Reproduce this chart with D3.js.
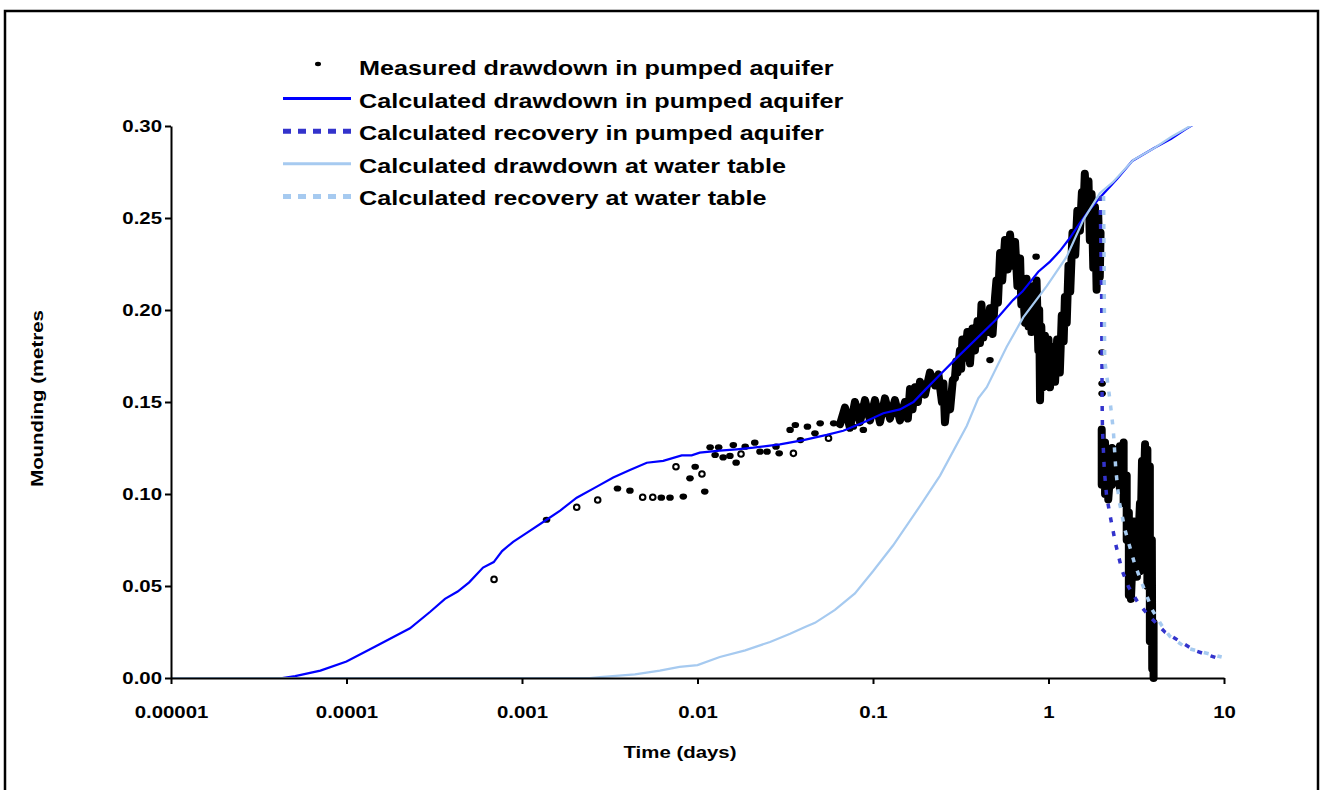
<!DOCTYPE html>
<html>
<head>
<meta charset="utf-8">
<script src="https://cdn.jsdelivr.net/npm/d3@7"></script>
<style>
  body { margin: 0; background: #fff; }
  svg { display: block; }
  text { font-family: "Liberation Sans", Arial, sans-serif; font-weight: bold; fill: #000; }
</style>
</head>
<body>
<svg id="chart" width="1322" height="790"></svg>
<script>
// axis ticks
const tickValuesX = [1e-5, 1e-4, 1e-3, 0.01, 0.1, 1, 10];
const tickLabelsX = ["0.00001", "0.0001", "0.001", "0.01", "0.1", "1", "10"];
const tickValuesY = [0, 0.05, 0.1, 0.15, 0.2, 0.25, 0.3];
const tickLabelsY = ["0.00", "0.05", "0.10", "0.15", "0.20", "0.25", "0.30"];

const seriesNames = [
  "Measured drawdown in pumped aquifer",
  "Calculated drawdown in pumped aquifer",
  "Calculated recovery in pumped aquifer",
  "Calculated drawdown at water table",
  "Calculated recovery at water table"
];

// [time (days), mounding (m)]
const calcPumped = [
  [1e-5, 0], [4.3e-5, 0], [5.1e-5, 0.001], [7.1e-5, 0.004], [1e-4, 0.009], [1.45e-4, 0.017],
  [2.3e-4, 0.027], [3.0e-4, 0.036], [3.64e-4, 0.043], [4.3e-4, 0.047], [5.0e-4, 0.052],
  [6.0e-4, 0.060], [6.9e-4, 0.063], [7.7e-4, 0.069], [8.9e-4, 0.074], [1.07e-3, 0.079],
  [1.38e-3, 0.086], [1.65e-3, 0.091], [2.05e-3, 0.098], [2.67e-3, 0.104], [3.31e-3, 0.109],
  [4.12e-3, 0.113], [5.14e-3, 0.117], [6.38e-3, 0.118], [8.13e-3, 0.121], [9.26e-3, 0.121],
  [0.0103, 0.1225], [0.0134, 0.1236], [0.0167, 0.1243], [0.0208, 0.1252], [0.0295, 0.127],
  [0.0401, 0.1293], [0.0545, 0.1321], [0.0677, 0.1344], [0.0881, 0.1388], [0.1145, 0.1439],
  [0.1425, 0.146], [0.17, 0.150], [0.2, 0.157], [0.236, 0.164], [0.298, 0.1737], [0.5, 0.1946],
  [0.628, 0.2054], [0.71, 0.210], [0.875, 0.2208], [1.02, 0.2263], [1.16, 0.232], [1.32, 0.239],
  [1.5, 0.247], [1.7, 0.254], [1.96, 0.261], [2.45, 0.271], [3.0, 0.281], [4.0, 0.288],
  [5.0, 0.293], [6.0, 0.298], [7.0, 0.302]
];

const recoveryPumped = [
  [1.97, 0.262], [2.01, 0.2054], [2.02, 0.151], [2.03, 0.135], [2.08, 0.113], [2.14, 0.0995],
  [2.24, 0.0886], [2.42, 0.0723], [2.62, 0.0587], [2.86, 0.0495], [3.22, 0.0413], [3.7, 0.0342],
  [4.6, 0.025], [5.8, 0.019], [6.9, 0.0147], [9.9, 0.0098]
];

const calcWaterTable = [
  [1e-5, 0], [2.44e-3, 0], [2.78e-3, 0.0005], [4.4e-3, 0.002], [6.1e-3, 0.004], [7.9e-3, 0.006],
  [0.01, 0.007], [0.0134, 0.0114], [0.0187, 0.015], [0.0259, 0.0196], [0.0337, 0.024],
  [0.041, 0.0277], [0.0467, 0.030], [0.0607, 0.037], [0.0789, 0.046], [0.1, 0.058],
  [0.13, 0.072], [0.19, 0.095], [0.241, 0.11], [0.342, 0.137], [0.398, 0.152], [0.445, 0.158],
  [0.578, 0.18], [0.718, 0.196], [0.977, 0.213], [1.27, 0.229], [1.58, 0.249], [1.96, 0.2634],
  [2.34, 0.2697], [3.04, 0.2815], [4.0, 0.288], [5.0, 0.294], [7.0, 0.302]
];

const recoveryWaterTable = [
  [2.06, 0.262], [2.08, 0.2054], [2.09, 0.1728], [2.24, 0.151], [2.34, 0.1348], [2.42, 0.113],
  [2.52, 0.0967], [2.73, 0.0804], [3.11, 0.0614], [3.44, 0.0505], [3.9, 0.037], [4.4, 0.0288],
  [4.9, 0.0228], [6.1, 0.0163], [9.7, 0.0114]
];

// measured: scattered early readings
const measuredDots = [
  [1.38e-3, 0.086], [3.5e-3, 0.103], [4.12e-3, 0.1018], [6.22e-3, 0.098], [6.97e-3, 0.098],
  [8.3e-3, 0.0986], [9.06e-3, 0.1085], [9.7e-3, 0.1148], [0.011, 0.1013], [0.0118, 0.1254],
  [0.0126, 0.1212], [0.0132, 0.1254], [0.014, 0.1199], [0.0153, 0.1207], [0.016, 0.1266],
  [0.0166, 0.117], [0.0187, 0.1257], [0.0212, 0.1279], [0.0227, 0.123], [0.0249, 0.123],
  [0.028, 0.1257], [0.0292, 0.1221], [0.0337, 0.1348], [0.0361, 0.1375], [0.0386, 0.1293],
  [0.0423, 0.1366], [0.0467, 0.133], [0.05, 0.1384], [0.0597, 0.1384], [0.0693, 0.1411],
  [0.0773, 0.1366], [0.0843, 0.1475], [0.0881, 0.1348], [0.464, 0.1728], [0.85, 0.229],
  [2.02, 0.177], [2.02, 0.160], [2.02, 0.1546]
];
const measuredRings = [
  [6.93e-4, 0.0536], [2.05e-3, 0.0928], [2.7e-3, 0.0967], [4.87e-3, 0.0982], [5.56e-3, 0.0982],
  [7.54e-3, 0.1148], [0.0106, 0.1109], [0.0177, 0.1217], [0.0352, 0.1221], [0.0558, 0.1303]
];
// measured: dense logging during pumping
const measuredPumping = [
  [0.0649, 0.138], [0.0692, 0.147], [0.0739, 0.136], [0.0789, 0.150], [0.0843, 0.139],
  [0.090, 0.151], [0.0962, 0.140], [0.1026, 0.151], [0.1096, 0.139], [0.117, 0.152],
  [0.125, 0.141], [0.1334, 0.151], [0.1425, 0.140], [0.1521, 0.150], [0.158, 0.141],
  [0.1625, 0.157], [0.168, 0.146], [0.1735, 0.158], [0.18, 0.150], [0.1853, 0.161],
  [0.1978, 0.154], [0.211, 0.166], [0.2256, 0.159], [0.236, 0.165], [0.247, 0.150],
  [0.252, 0.160], [0.257, 0.139], [0.265, 0.153], [0.275, 0.146], [0.285, 0.162],
  [0.293, 0.163], [0.298, 0.172], [0.303, 0.166], [0.313, 0.178], [0.318, 0.168],
  [0.323, 0.184], [0.334, 0.174], [0.345, 0.188], [0.357, 0.171], [0.369, 0.190],
  [0.381, 0.178], [0.394, 0.194], [0.407, 0.182], [0.415, 0.203], [0.425, 0.185],
  [0.435, 0.197], [0.45, 0.188], [0.464, 0.201], [0.48, 0.187], [0.496, 0.207],
  [0.505, 0.216], [0.515, 0.204], [0.53, 0.231], [0.545, 0.216], [0.565, 0.238],
  [0.585, 0.222], [0.604, 0.241], [0.625, 0.224], [0.645, 0.237], [0.665, 0.213],
  [0.689, 0.228], [0.70, 0.203], [0.712, 0.215], [0.735, 0.193], [0.75, 0.217],
  [0.77, 0.191], [0.785, 0.209], [0.80, 0.188], [0.82, 0.213], [0.838, 0.190],
  [0.855, 0.216], [0.875, 0.178], [0.885, 0.200], [0.895, 0.151], [0.91, 0.191],
  [0.93, 0.158], [0.955, 0.186], [0.98, 0.163], [1.0, 0.184], [1.02, 0.158],
  [1.05, 0.180], [1.09, 0.161], [1.12, 0.184], [1.16, 0.166], [1.19, 0.197],
  [1.22, 0.183], [1.24, 0.207], [1.27, 0.193], [1.30, 0.224], [1.33, 0.210],
  [1.37, 0.242], [1.42, 0.230], [1.46, 0.254], [1.51, 0.243], [1.55, 0.264],
  [1.58, 0.253], [1.61, 0.274], [1.65, 0.256], [1.69, 0.270], [1.72, 0.238],
  [1.76, 0.263], [1.80, 0.223], [1.84, 0.256], [1.88, 0.211], [1.92, 0.252],
  [1.96, 0.218], [1.98, 0.242]
];
// measured: dense logging during recovery
const measuredRecovery = [
  [2.01, 0.135], [2.01, 0.105], [2.10, 0.128], [2.10, 0.100], [2.19, 0.120], [2.19, 0.097],
  [2.30, 0.125], [2.30, 0.105], [2.42, 0.118], [2.42, 0.110], [2.55, 0.126], [2.55, 0.103],
  [2.68, 0.128], [2.68, 0.095], [2.79, 0.110], [2.79, 0.075], [2.87, 0.090], [2.87, 0.045],
  [2.95, 0.060], [2.95, 0.043], [3.07, 0.085], [3.07, 0.060], [3.19, 0.070], [3.19, 0.055],
  [3.32, 0.095], [3.32, 0.058], [3.41, 0.118], [3.41, 0.070], [3.55, 0.127], [3.55, 0.090],
  [3.66, 0.124], [3.66, 0.050], [3.78, 0.115], [3.78, 0.020], [3.88, 0.075], [3.90, 0.005],
  [3.97, 0.030], [3.97, 0.0]
];

const blue = "#0000ff";
const darkDash = "#3333cc";
const lightBlue = "#a6caf0";
const stretch = 1.2; // text in the original is set wide

let svg = d3.select("#chart");

// outer frame
svg.append("rect")
  .attr("x", 5).attr("y", 11)
  .attr("width", 1313).attr("height", 800)
  .attr("fill", "none").attr("stroke", "#000").attr("stroke-width", 2.5);

let x = d3.scaleLog().domain([1e-5, 10]).range([171, 1224]);
let y = d3.scaleLinear().domain([0, 0.3]).range([678, 126]);

svg.append("clipPath").attr("id", "plotClip")
  .append("rect").attr("x", 165).attr("y", 126).attr("width", 1070).attr("height", 570);

let line = d3.line().x(d => x(d[0])).y(d => y(d[1]));

// measured series
let measured = svg.append("g");
[measuredPumping, measuredRecovery].forEach(function (band) {
  measured.append("path")
    .attr("d", line(band))
    .attr("fill", "none")
    .attr("stroke", "#000")
    .attr("stroke-width", 8)
    .attr("stroke-linejoin", "round")
    .attr("stroke-linecap", "round");
});
measured.selectAll(".dot").data(measuredDots).join("ellipse")
  .attr("class", "dot")
  .attr("cx", d => x(d[0])).attr("cy", d => y(d[1]))
  .attr("rx", 3.8).attr("ry", 3.1).attr("fill", "#000");
measured.selectAll(".ring").data(measuredRings).join("circle")
  .attr("class", "ring")
  .attr("cx", d => x(d[0])).attr("cy", d => y(d[1]))
  .attr("r", 2.8).attr("fill", "#fff").attr("stroke", "#000").attr("stroke-width", 2);

// calculated curves
let curves = svg.append("g").attr("clip-path", "url(#plotClip)");
let curveSpecs = [
  { data: calcPumped, color: blue, width: 2.2, dash: null },
  { data: recoveryPumped, color: darkDash, width: 3.5, dash: "5,9" },
  { data: calcWaterTable, color: lightBlue, width: 2.2, dash: null },
  { data: recoveryWaterTable, color: lightBlue, width: 3.5, dash: "5,9" }
];
curveSpecs.forEach(function (s) {
  curves.append("path")
    .attr("d", line(s.data))
    .attr("fill", "none")
    .attr("stroke", s.color)
    .attr("stroke-width", s.width)
    .attr("stroke-dasharray", s.dash);
});

// axes
let xAxis = svg.append("g")
  .attr("transform", "translate(0,678)")
  .call(d3.axisBottom(x).tickValues(tickValuesX)
    .tickFormat((d, i) => tickLabelsX[i]).tickSize(6).tickSizeOuter(0).tickPadding(22));
let yAxis = svg.append("g")
  .attr("transform", "translate(171,0)")
  .call(d3.axisLeft(y).tickValues(tickValuesY)
    .tickFormat((d, i) => tickLabelsY[i]).tickSize(6).tickSizeOuter(0).tickPadding(1.5));

[xAxis, yAxis].forEach(function (ax) {
  ax.select(".domain").attr("stroke", "#000").attr("stroke-width", 2);
  ax.selectAll(".tick line").attr("stroke", "#000").attr("stroke-width", 2);
  ax.selectAll(".tick text")
    .attr("font-family", "Liberation Sans, Arial, sans-serif")
    .attr("font-weight", "bold")
    .attr("font-size", 17)
    .attr("fill", "#000")
    .attr("transform", `scale(${stretch},1)`);
});

// axis titles
svg.append("text")
  .attr("transform", `translate(680,758) scale(${stretch},1)`)
  .attr("text-anchor", "middle")
  .attr("font-size", 17)
  .text("Time (days)");
svg.append("text")
  .attr("transform", `translate(43,398.5) rotate(-90) scale(${stretch},1)`)
  .attr("text-anchor", "middle")
  .attr("font-size", 17)
  .text("Mounding (metres");

// legend
let legend = svg.append("g");
let legendStyles = [
  null,
  { color: blue, width: 3, dash: null },
  { color: darkDash, width: 5, dash: "8,7" },
  { color: lightBlue, width: 3, dash: null },
  { color: lightBlue, width: 5, dash: "8,7" }
];
seriesNames.forEach(function (name, i) {
  let baseline = 75 + 32.6 * i;
  let symY = baseline - 9;
  let st = legendStyles[i];
  if (st === null) {
    legend.append("ellipse")
      .attr("cx", 318).attr("cy", symY - 2)
      .attr("rx", 3).attr("ry", 2.2).attr("fill", "#000");
  } else {
    legend.append("line")
      .attr("x1", 283).attr("x2", 351)
      .attr("y1", symY).attr("y2", symY)
      .attr("stroke", st.color)
      .attr("stroke-width", st.width)
      .attr("stroke-dasharray", st.dash);
  }
  legend.append("text")
    .attr("transform", `translate(359,${baseline}) scale(${stretch},1)`)
    .attr("font-size", 21)
    .text(name);
});
</script>
</body>
</html>
